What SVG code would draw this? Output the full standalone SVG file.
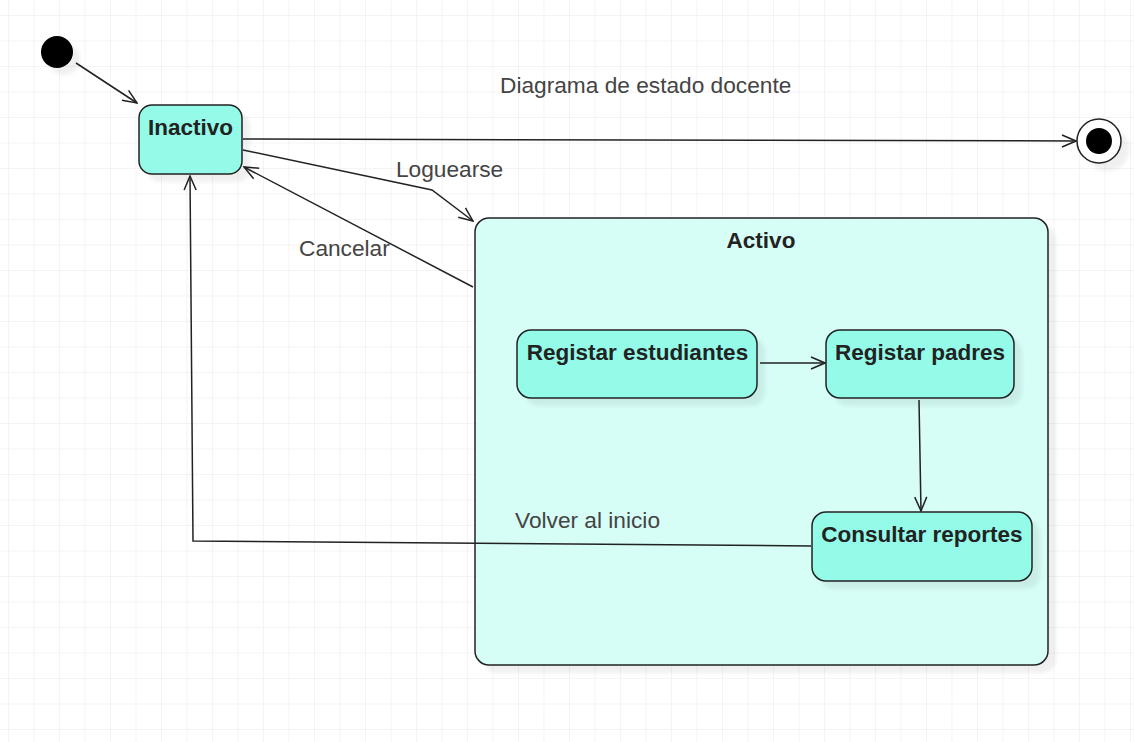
<svg xmlns="http://www.w3.org/2000/svg" width="1134" height="742" viewBox="0 0 1134 742">
<defs>
<pattern id="grid" x="8" y="15" width="25.5" height="25.5" patternUnits="userSpaceOnUse">
<path d="M0,0 H25.5 M0,0 V25.5" fill="none" stroke="#e9e9e9" stroke-width="1"/>
</pattern>
<filter id="blur" x="-20%" y="-20%" width="140%" height="140%"><feGaussianBlur stdDeviation="2"/></filter>
<marker id="arr" viewBox="0 0 16 14" refX="15" refY="7" markerWidth="16" markerHeight="14" markerUnits="userSpaceOnUse" orient="auto">
<path d="M1,1 L15,7 L1,13" fill="none" stroke="#222" stroke-width="1.5"/>
</marker>
</defs>
<style>
.node{fill:#93fbe7;stroke:#222;stroke-width:1.5}
.cont{fill:#d6fdf6;stroke:#222;stroke-width:1.5}
.sh{fill:#000;opacity:0.06;filter:url(#blur)}
.b{font-family:"Liberation Sans",Arial,sans-serif;font-weight:bold;font-size:22.5px;fill:#222;text-anchor:middle}
.r{font-family:"Liberation Sans",Arial,sans-serif;font-size:22.7px;fill:#444}
.c{fill:none;stroke:#222;stroke-width:1.5}
</style>
<rect width="1134" height="742" fill="#fff"/>
<rect width="1134" height="742" fill="url(#grid)"/>

<g id="initial">
<circle cx="64" cy="59" r="16" class="sh"/>
<circle cx="57" cy="52" r="16" fill="#000"/>
</g>

<g id="final">
<circle cx="1107" cy="149" r="22" class="sh"/>
<circle cx="1099" cy="141" r="22" fill="#fff" stroke="#222" stroke-width="1.5"/>
<circle cx="1099" cy="141" r="13" fill="#000"/>
</g>

<g id="title">
<text class="r" x="500" y="93">Diagrama de estado docente</text>
</g>

<g id="inactivo">
<rect x="147" y="113" width="103" height="69" rx="13" class="sh"/>
<rect x="139" y="105" width="103" height="69" rx="13" class="node"/>
<text class="b" x="190.5" y="135">Inactivo</text>
</g>

<g id="activo">
<rect x="483" y="226" width="573" height="447" rx="14" class="sh"/>
<rect x="475" y="218" width="573" height="447" rx="14" class="cont"/>
<text class="b" x="761" y="248">Activo</text>
</g>

<g id="registrar-estudiantes">
<rect x="525" y="338" width="240" height="68" rx="14" class="sh"/>
<rect x="517" y="330" width="240" height="68" rx="14" class="node"/>
<text class="b" x="637.5" y="360">Registar estudiantes</text>
</g>

<g id="registrar-padres">
<rect x="834" y="338" width="188" height="68" rx="14" class="sh"/>
<rect x="826" y="330" width="188" height="68" rx="14" class="node"/>
<text class="b" x="920" y="360">Registar padres</text>
</g>

<g id="consultar-reportes">
<rect x="820" y="520" width="220" height="69" rx="14" class="sh"/>
<rect x="812" y="512" width="220" height="69" rx="14" class="node"/>
<text class="b" x="922" y="542">Consultar reportes</text>
</g>

<g id="connectors">
<line class="c" x1="76" y1="63" x2="137" y2="103" marker-end="url(#arr)"/>
<line class="c" x1="243" y1="139" x2="1076" y2="141" marker-end="url(#arr)"/>
<polyline class="c" points="243,150 432,190 473,221" marker-end="url(#arr)"/>
<line class="c" x1="473" y1="287" x2="244" y2="167" marker-end="url(#arr)"/>
<polyline class="c" points="811,546 193,541 190,176" marker-end="url(#arr)"/>
<line class="c" x1="760" y1="363" x2="825" y2="363" marker-end="url(#arr)"/>
<line class="c" x1="919" y1="400" x2="921" y2="511" marker-end="url(#arr)"/>
<text class="r" x="396" y="177">Loguearse</text>
<text class="r" x="299" y="256">Cancelar</text>
<text class="r" x="515" y="528">Volver al inicio</text>
</g>
</svg>
